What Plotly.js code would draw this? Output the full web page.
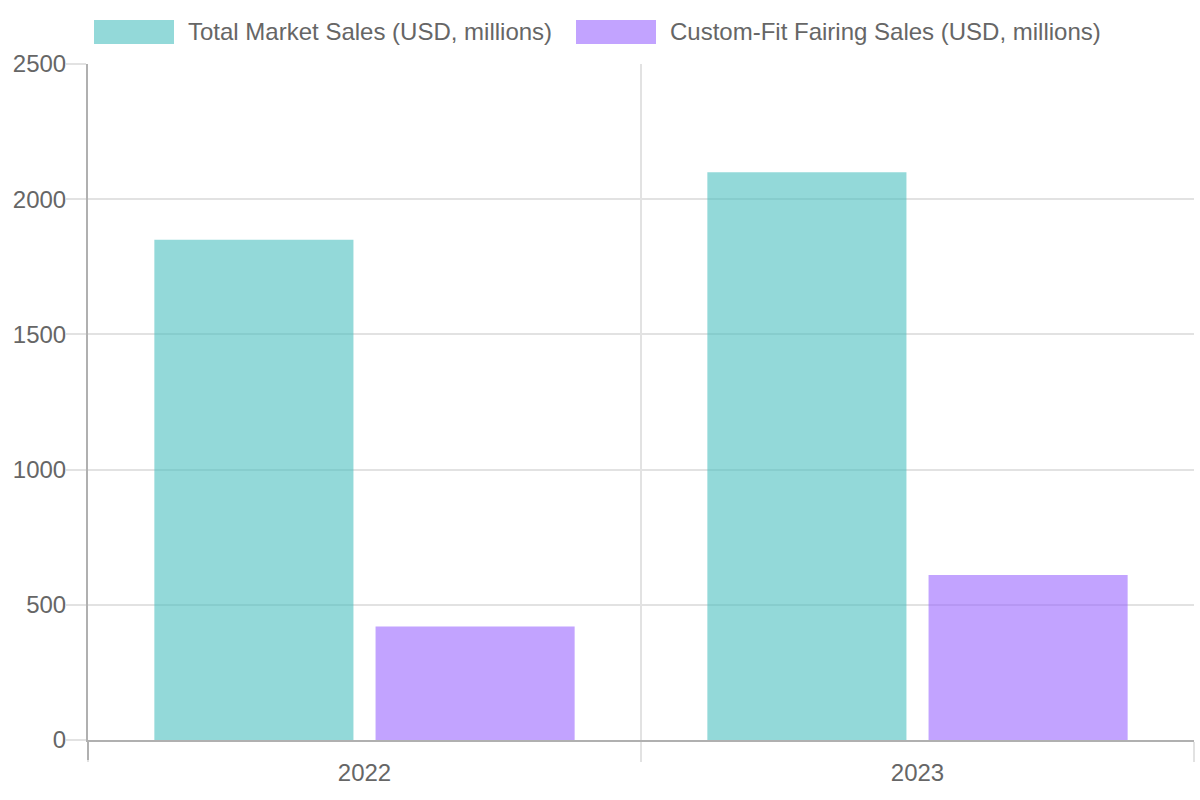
<!DOCTYPE html>
<html>
<head>
<meta charset="utf-8">
<script src="https://cdn.plot.ly/plotly-3.0.1.min.js"></script>
<style>html,body{margin:0;padding:0;background:#fff;}#chart{width:1200px;height:800px;}</style>
</head>
<body>
<div id="chart"></div>
<script>
const categories = ["2022", "2023"];
const totalMarketSales = [1850, 2100];
const customFitSales = [420, 610];
const seriesNames = ["Total Market Sales (USD, millions)", "Custom-Fit Fairing Sales (USD, millions)"];
const yTicks = [0, 500, 1000, 1500, 2000, 2500];

const fills = ["rgba(75,192,192,0.6)", "rgba(153,102,255,0.6)"];
const W = 1200, H = 800, L = 88, R = 6, T = 64, B = 60;
const pw = W - L - R, ph = H - T - B;
const px = x => (x - L) / pw;
const py = y => (H - B - y) / ph;

const traces = [totalMarketSales, customFitSales].map((vals, i) => ({
  type: "bar",
  x: categories,
  y: vals,
  name: seriesNames[i],
  marker: {color: fills[i], line: {width: 0}},
  hoverinfo: "skip",
  showlegend: false
}));

const font = {family: "Liberation Sans, Arial, sans-serif", size: 24, color: "#666666"};
const gridC = "#e2e2e2", axisC = "#b0b0b0";

// manual legend (Chart.js style wide boxes)
const legendItems = [
  {box: [94, 174], text: 186},
  {box: [576, 656], text: 668}
];
const shapes = [];
const annotations = [];
legendItems.forEach((it, i) => {
  shapes.push({type: "rect", xref: "paper", yref: "paper",
    x0: px(it.box[0]), x1: px(it.box[1]), y0: py(44), y1: py(20),
    fillcolor: fills[i], line: {width: 0}});
  annotations.push({xref: "paper", yref: "paper", x: px(it.text), y: py(32),
    xanchor: "left", yanchor: "middle", showarrow: false, text: seriesNames[i], font: font});
});
// left axis extension below x axis
shapes.push({type: "line", xref: "paper", yref: "paper", x0: 0, x1: 0, y0: 0, y1: py(760),
  line: {color: axisC, width: 2}});

const layout = {
  width: W, height: H,
  margin: {l: L, r: R, t: T, b: B, pad: 0},
  paper_bgcolor: "#ffffff", plot_bgcolor: "#ffffff",
  font: font,
  barmode: "group",
  bargap: 0.2,
  bargroupgap: 0.1,
  showlegend: false,
  xaxis: {
    type: "category",
    tickson: "boundaries",
    ticks: "outside", ticklen: 20, tickcolor: gridC, tickwidth: 2,
    ticklabelstandoff: 10,
    showgrid: true, gridcolor: gridC, gridwidth: 2,
    showline: true, linecolor: axisC, linewidth: 2,
    tickfont: font, fixedrange: true
  },
  yaxis: {
    range: [0, 2500],
    tickvals: yTicks,
    ticktext: yTicks.map(String),
    ticks: "outside", ticklen: 20, tickcolor: gridC, tickwidth: 2,
    ticklabelstandoff: -5,
    showgrid: true, gridcolor: gridC, gridwidth: 2,
    zeroline: false,
    showline: true, linecolor: axisC, linewidth: 2,
    tickfont: font, fixedrange: true
  },
  shapes: shapes,
  annotations: annotations
};

Plotly.newPlot("chart", traces, layout, {displayModeBar: false, staticPlot: true});
</script>
</body>
</html>
